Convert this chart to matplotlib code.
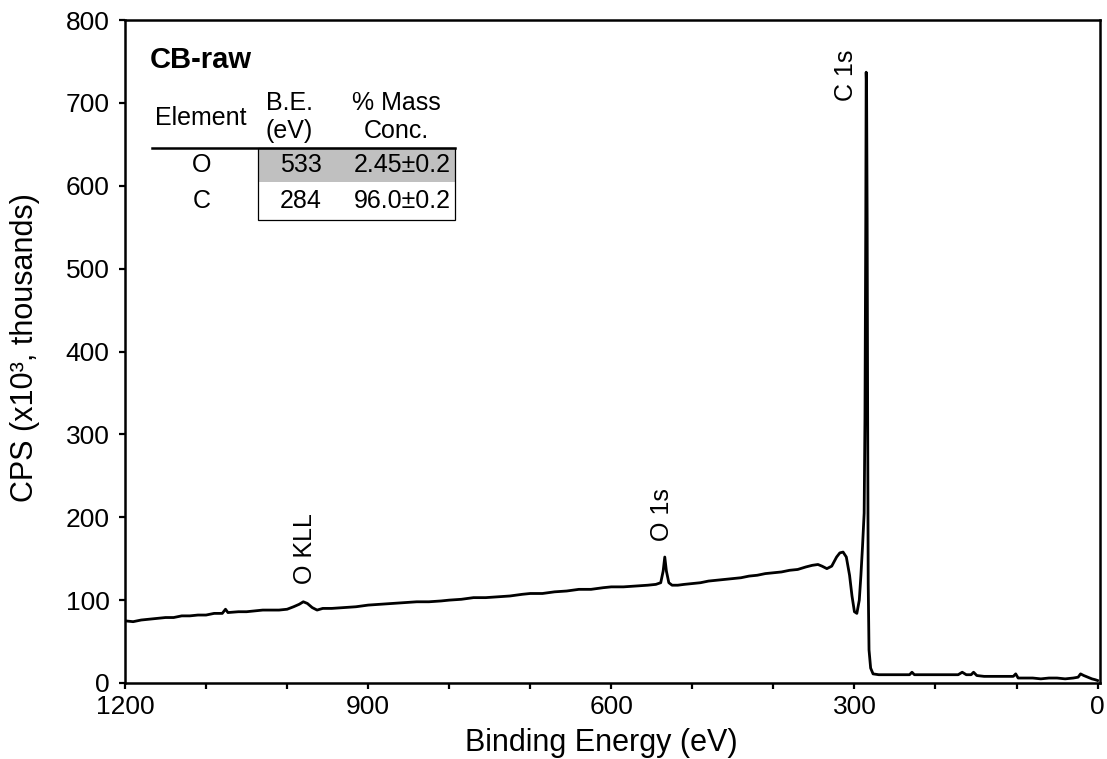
import matplotlib
matplotlib.use('Agg')
import matplotlib.pyplot as plt
from matplotlib.patches import Rectangle
from matplotlib.lines import Line2D
from matplotlib.ticker import MultipleLocator

plt.rcParams['font.family'] = ['Liberation Sans', 'DejaVu Sans']

# spectrum (binding energy in eV, CPS in thousands)
energy = [1200, 1190, 1180, 1170, 1160, 1150, 1140, 1130, 1120, 1110, 1100, 1090,
          1080, 1076, 1073, 1060, 1050, 1040, 1030, 1020, 1010, 1000, 992, 985,
          980, 975, 969, 963, 956, 945, 930, 915, 900, 885, 870, 855, 840, 825,
          810, 800, 785, 770, 755, 740, 725, 710, 700, 685, 670, 655, 640, 625,
          610, 600, 585, 570, 555, 545, 539, 536, 534, 532, 529, 525, 518, 510,
          500, 490, 480, 470, 460, 450, 440, 430, 420, 410, 400, 390, 380, 370,
          360, 352, 345, 340, 334, 328, 322, 318, 314, 310, 306, 303, 300, 297,
          294, 292, 290, 288, 287, 286, 285.5, 285, 284.3, 283.7, 283, 282, 280,
          277, 270, 255, 240, 232, 229, 226, 210, 190, 172, 167, 162, 156, 153,
          149, 140, 125, 110, 104, 101, 98, 90, 80, 70, 60, 50, 40, 30, 24, 21,
          17, 12, 7, 3, 0]
cps = [75, 74, 76, 77, 78, 79, 79, 81, 81, 82, 82, 84,
       84, 89, 85, 86, 86, 87, 88, 88, 88, 89, 92, 95,
       98, 96, 91, 88, 90, 90, 91, 92, 94, 95, 96, 97, 98, 98,
       99, 100, 101, 103, 103, 104, 105, 107, 108, 108, 110, 111, 113, 113,
       115, 116, 116, 117, 118, 119, 121, 135, 152, 135, 121, 118, 118, 119,
       120, 121, 123, 124, 125, 126, 127, 129, 130, 132, 133, 134, 136, 137,
       140, 142, 143, 141, 138, 141, 152, 157, 158, 152, 130, 105, 86, 84,
       100, 130, 165, 205, 320, 560, 737, 720, 560, 330, 120, 40, 18,
       11, 10, 10, 10, 10, 13, 10, 10, 10, 10, 13, 10, 10, 13,
       9, 8, 8, 8, 8, 11, 6, 6, 6, 5, 6, 6, 5, 6, 7, 11,
       9, 7, 5, 4, 3]

peak_labels = ['C 1s', 'O 1s', 'O KLL']
peak_label_x = [311, 538, 978]
peak_label_y = [733, 203, 162]

table_elements = ['O', 'C']
table_be = ['533', '284']
table_conc = ['2.45\u00b10.2', '96.0\u00b10.2']

W, H = 1107, 759
fig = plt.figure(figsize=(W / 100, H / 100), dpi=100)
ax = fig.add_axes([125 / W, 1 - 683 / H, 975 / W, 663 / H])

ax.plot(energy, cps, color='black', lw=2.0, solid_joinstyle='round')

ax.set_xlim(1200, -3)
ax.set_ylim(0, 800)
ax.xaxis.set_major_locator(MultipleLocator(300))
ax.xaxis.set_minor_locator(MultipleLocator(100))
ax.yaxis.set_major_locator(MultipleLocator(100))
ax.tick_params(which='both', direction='out', length=4, width=1.6, labelsize=19)
ax.tick_params(axis='y', pad=7)
ax.tick_params(axis='x', pad=5)
for s in ax.spines.values():
    s.set_linewidth(1.8)


def px(x, y):
    return x / W, 1 - y / H


# axis titles placed where they sit in the original
fig.text(*px(601, 743), 'Binding Energy (eV)', fontsize=22, ha='center', va='center')
fig.text(*px(25, 348), 'CPS (x10\u00b3, thousands)', fontsize=22, rotation=90,
         ha='center', va='center')

for lab, x, y in zip(peak_labels, peak_label_x, peak_label_y):
    ax.text(x, y, lab, rotation=90, ha='center', va='center', fontsize=18)

# sample name and composition table
fig.text(*px(150, 60), 'CB-raw', fontsize=21, fontweight='bold', ha='left', va='center')
fig.text(*px(201, 118), 'Element', fontsize=18, ha='center', va='center')
fig.text(*px(289, 103), 'B.E.', fontsize=18, ha='center', va='center')
fig.text(*px(289, 131), '(eV)', fontsize=18, ha='center', va='center')
fig.text(*px(396, 103), '% Mass', fontsize=18, ha='center', va='center')
fig.text(*px(396, 131), 'Conc.', fontsize=18, ha='center', va='center')

x0, y0 = px(258, 182)
x1, y1 = px(455, 148)
fig.patches.append(Rectangle((x0, y0), x1 - x0, y1 - y0, transform=fig.transFigure,
                             facecolor='#c0c0c0', edgecolor='none'))
bx0, by0 = px(258, 220)
fig.patches.append(Rectangle((bx0, by0), x1 - bx0, y1 - by0, transform=fig.transFigure,
                             facecolor='none', edgecolor='black', lw=0.9))
lx0, ly = px(152, 148)
fig.lines.append(Line2D([lx0, x1], [ly, ly], transform=fig.transFigure, color='black', lw=1.8))

for i, (el, be, conc) in enumerate(zip(table_elements, table_be, table_conc)):
    yy = 165 + 36 * i
    fig.text(*px(202, yy), el, fontsize=18, ha='center', va='center')
    fig.text(*px(322, yy), be, fontsize=18, ha='right', va='center')
    fig.text(*px(451, yy), conc, fontsize=18, ha='right', va='center')

fig.savefig('out.png', dpi=100)
